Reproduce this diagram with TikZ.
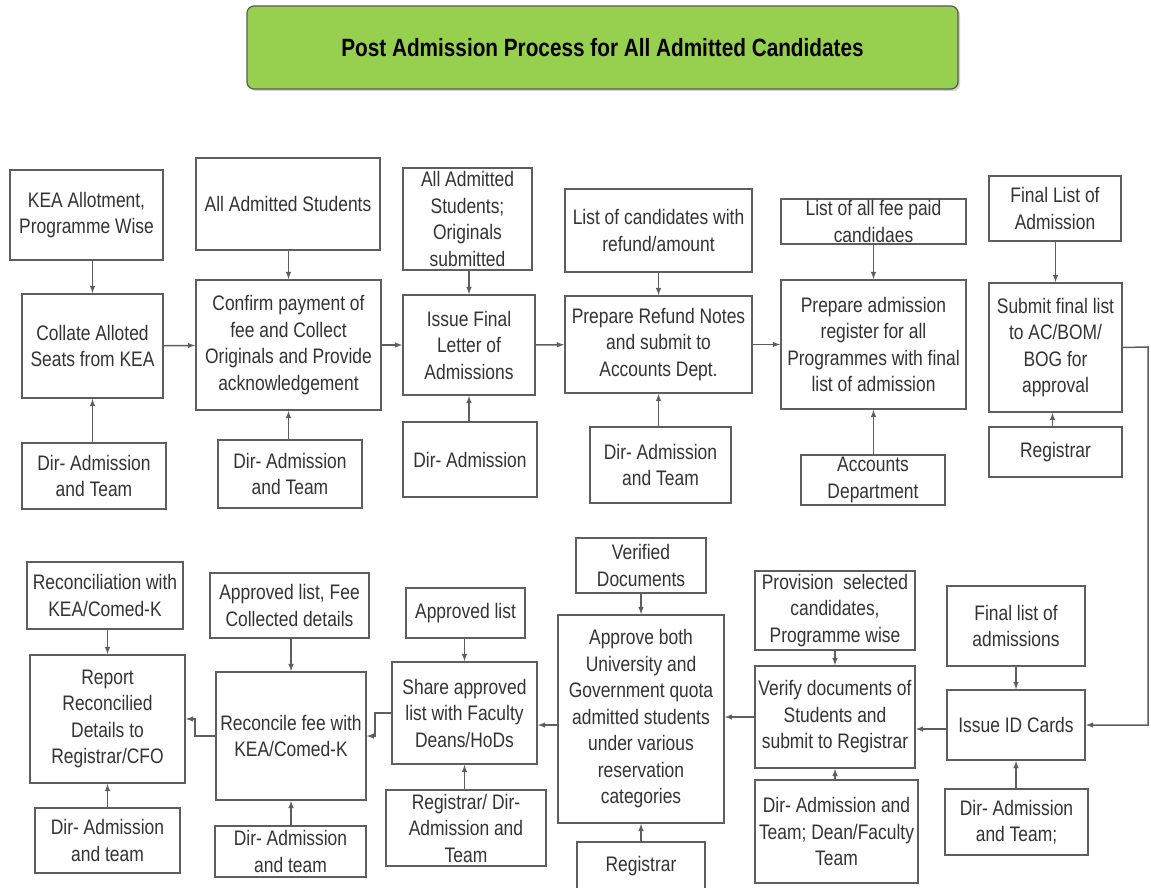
\documentclass[tikz,border=0pt]{standalone}
\usepackage{fontspec}
\setmainfont{Liberation Sans}[FakeStretch=0.83]
\usepackage{xcolor}
\usepackage{tikz}
\usetikzlibrary{positioning,arrows,shadows}

\definecolor{titlegreen}{HTML}{96D04E}
\definecolor{boxline}{HTML}{5E5E5E}
\definecolor{txt}{HTML}{333333}

\begin{document}
\begin{tikzpicture}[x=1pt,y=-1pt,
    every node/.style={align=center,text=txt,font=\fontsize{21}{26.5}\selectfont},
    box/.style={draw=boxline,line width=1.8pt,inner sep=3pt},
    flatbox/.style={box,inner ysep=0pt},
    arr/.style={-latex,draw=boxline,line width=1.5pt}]
    \useasboundingbox (0,0) rectangle (1151,888);
    \node[draw=gray!70!black,line width=1.2pt,fill=titlegreen,rounded corners=7pt,
      minimum width=711,minimum height=83,text=black,
      drop shadow={shadow xshift=2pt,shadow yshift=-2pt,fill=black!35},
      font=\fontsize{25}{30}\selectfont\bfseries] (Title) at (602.5,47.5)
      {Post Admission Process for All Admitted Candidates};
    % upper row
    \node[box,minimum width=153,minimum height=90] (KEA) at (86.5,215) {KEA Allotment,\\Programme Wise};
    \node[box,minimum width=141,minimum height=104] (Coll) at (92.5,346) {Collate Alloted\\Seats from KEA};
    \node[box,minimum width=144,minimum height=66] (DirA) at (94,476) {Dir- Admission\\and Team};
    \node[box,minimum width=184,minimum height=92] (AllSt) at (288,204) {All Admitted Students};
    \node[box,minimum width=185,minimum height=130] (Conf) at (288.5,345) {Confirm payment of\\fee and Collect\\Originals and Provide\\acknowledgement};
    \node[box,minimum width=144,minimum height=68] (DirB) at (290,474) {Dir- Admission\\and Team};
    \node[flatbox,minimum width=129,minimum height=102] (AllOrig) at (467.5,219) {All Admitted\\Students;\\Originals\\submitted};
    \node[box,minimum width=132,minimum height=100] (Issue) at (469,345) {Issue Final\\Letter of\\Admissions};
    \node[box,minimum width=134,minimum height=75] (DirC) at (470,459.5) {Dir- Admission};
    \node[box,minimum width=187,minimum height=83] (ListRef) at (658.5,230.5) {List of candidates with\\refund/amount};
    \node[box,minimum width=187,minimum height=97] (Refund) at (658.5,344.5) {Prepare Refund Notes\\and submit to\\Accounts Dept.};
    \node[box,minimum width=141,minimum height=76] (DirD) at (660.5,465) {Dir- Admission\\and Team};
    \node[flatbox,minimum width=185,minimum height=45] (FeePaid) at (873.5,221.5) {List of all fee paid\\candidaes};
    \node[box,minimum width=185,minimum height=129] (Reg) at (873.5,344.5) {Prepare admission\\register for all\\Programmes with final\\list of admission};
    \node[flatbox,minimum width=144,minimum height=50] (Acc) at (873,480) {Accounts\\Department};
    \node[box,minimum width=132,minimum height=65] (FinalA) at (1055,208.5) {Final List of\\Admission};
    \node[box,minimum width=133,minimum height=129] (Submit) at (1055.5,347.5) {Submit final list\\to AC/BOM/\\BOG for\\approval};
    \node[box,minimum width=133,minimum height=50] (RegA) at (1055.5,452) {Registrar};
    % lower row
    \node[box,minimum width=156,minimum height=67] (Recon) at (105,595.5) {Reconciliation with\\KEA/Comed-K};
    \node[box,minimum width=155,minimum height=128] (Report) at (107.5,719) {Report\\Reconcilied\\Details to\\Registrar/CFO};
    \node[box,minimum width=145,minimum height=65] (DirE) at (107.5,840.5) {Dir- Admission\\and team};
    \node[box,minimum width=159,minimum height=65] (ApFee) at (289.5,605.5) {Approved list, Fee\\Collected details};
    \node[box,minimum width=150,minimum height=128] (RecFee) at (291,736) {Reconcile fee with\\KEA/Comed-K};
    \node[flatbox,minimum width=151,minimum height=51] (DirF) at (290.5,851.5) {Dir- Admission\\and team};
    \node[box,minimum width=119,minimum height=50] (ApList) at (465.5,613) {Approved list};
    \node[box,minimum width=145,minimum height=102] (Share) at (464.5,713) {Share approved\\list with Faculty\\Deans/HoDs};
    \node[flatbox,minimum width=160,minimum height=76] (RegDir) at (466,828) {Registrar/ Dir-\\Admission and\\Team};
    \node[flatbox,minimum width=130,minimum height=55] (VerDoc) at (641,565.5) {Verified\\Documents};
    \node[box,minimum width=166,minimum height=208] (Approve) at (641,719) {Approve both\\University and\\Government quota\\admitted students\\under various\\reservation\\categories};
    \node[box,minimum width=128,minimum height=48] (RegB) at (641,866) {Registrar};
    \node[box,minimum width=160,minimum height=79] (Prov) at (835,610.5) {Provision\ \ selected\\candidates,\\Programme wise};
    \node[box,minimum width=160,minimum height=102] (Verify) at (835,717) {Verify documents of\\Students and\\submit to Registrar};
    \node[box,minimum width=163,minimum height=103] (DirG) at (836.5,831.5) {Dir- Admission and\\Team; Dean/Faculty\\Team};
    \node[box,minimum width=138,minimum height=80] (FinalB) at (1016,626) {Final list of\\admissions};
    \node[box,minimum width=138,minimum height=70] (IDCard) at (1016,725) {Issue ID Cards};
    \node[box,minimum width=143,minimum height=66] (DirH) at (1016.5,822) {Dir- Admission\\and Team;};
    \coordinate (Edge) at (1148,347);
    % upper row arrows
    \draw[arr] (KEA.south -| Coll) -- (Coll.north);
    \draw[arr] (DirA.north -| Coll) -- (Coll.south);
    \draw[arr] (AllSt.south -| Conf) -- (Conf.north);
    \draw[arr] (DirB.north -| Conf) -- (Conf.south);
    \draw[arr] (AllOrig.south -| Issue) -- (Issue.north);
    \draw[arr] (DirC.north -| Issue) -- (Issue.south);
    \draw[arr] (ListRef.south -| Refund) -- (Refund.north);
    \draw[arr] (DirD.north -| Refund) -- (Refund.south);
    \draw[arr] (FeePaid.south -| Reg) -- (Reg.north);
    \draw[arr] (Acc.north -| Reg) -- (Reg.south);
    \draw[arr] (FinalA.south -| Submit) -- (Submit.north);
    \draw[arr] ([xshift=-3pt]RegA.north) -- ([xshift=-3pt]Submit.south);
    \draw[arr] (Coll) -- (Conf);
    \draw[arr] (Conf) -- (Issue);
    \draw[arr] (Issue) -- (Refund);
    \draw[arr] (Refund) -- (Reg);
    \draw[arr] (Submit.east) -- (Edge) |- (IDCard.east);
    % lower row arrows
    \draw[arr] (Recon.south -| Report) -- (Report.north);
    \draw[arr] (DirE.north -| Report) -- (Report.south);
    \draw[arr] (ApFee.south -| RecFee) -- (RecFee.north);
    \draw[arr] (DirF.north -| RecFee) -- (RecFee.south);
    \draw[arr] (ApList.south -| Share) -- (Share.north);
    \draw[arr] (RegDir.north -| Share) -- (Share.south);
    \draw[arr] (VerDoc.south -| Approve) -- (Approve.north);
    \draw[arr] (RegB.north -| Approve) -- (Approve.south);
    \draw[arr] (Prov.south -| Verify) -- (Verify.north);
    \draw[arr] (DirG.north -| Verify) -- (Verify.south);
    \draw[arr] (FinalB.south -| IDCard) -- (IDCard.north);
    \draw[arr] (DirH.north -| IDCard) -- (IDCard.south);
    \draw[arr] ([yshift=-4pt]IDCard.west) -- ([yshift=-4pt]IDCard.west -| Verify.east);
    \draw[arr] (Verify.west) -- (Verify.west -| Approve.east);
    \draw[arr] ([yshift=-6pt]Approve.west) -- ([yshift=-6pt]Approve.west -| Share.east);
    \draw[arr] (Share.west) -- ++(-16,0) |- (RecFee.east);
    \draw[arr] (RecFee.west) -- ++(-20,0) |- (Report.east);
  \end{tikzpicture}
\end{document}
